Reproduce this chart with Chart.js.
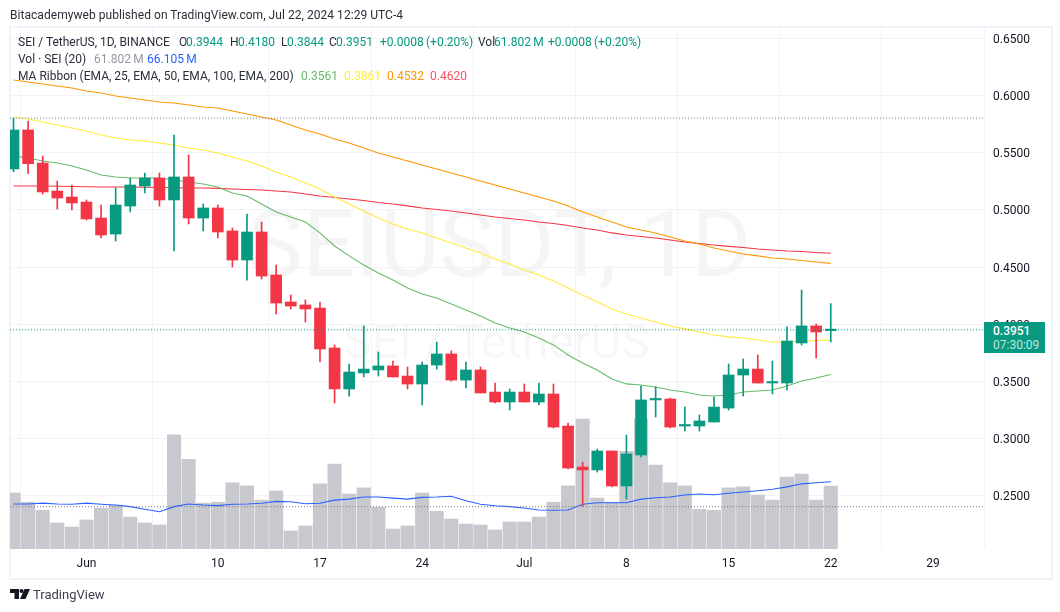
<!DOCTYPE html>
<html>
<head>
<meta charset="utf-8">
<style>
html,body{margin:0;padding:0;background:#fff;width:1060px;height:612px;overflow:hidden}
body{font-family:Roboto,sans-serif;color:#131722}
#stage{position:relative;width:1060px;height:612px}
.t{position:absolute;white-space:nowrap;font-size:12px;line-height:14px}
#frame{position:absolute;left:9px;top:26px;width:1040px;height:550px;border:2px solid #f0f3fa;z-index:0}
.wm{position:absolute;white-space:nowrap;color:rgba(19,23,34,.045);z-index:0;font-family:Roboto,sans-serif}
canvas{position:absolute;left:0;top:0;z-index:1}
.over{z-index:2}
#tag{position:absolute;left:984px;top:322px;width:61px;height:31px;background:#089981;z-index:2}
</style>
<script src="https://cdn.jsdelivr.net/npm/chart.js@4"></script>
</head>
<body>
<div id="stage">
<div id="frame"></div>
<div class="wm" style="left:248px;top:195px;font-size:92px;line-height:100px">SEIUSDT, 1D</div>
<div class="wm" style="left:343px;top:316px;font-size:48px;line-height:52px">SEI / TetherUS</div>
<canvas id="c" width="1060" height="612"></canvas>
<div class="t over" style="left:10px;top:8px;color:#2a2e39;letter-spacing:.045px">Bitacademyweb published on TradingView.com, Jul 22, 2024 12:29 UTC-4</div>
<div id="legend"></div>
<div id="tag"></div>
<div class="t over" style="left:993px;top:324px;color:#fff;font-weight:500">0.3951</div>
<div class="t over" style="left:993px;top:338px;color:rgba(255,255,255,.75)">07:30:09</div>
<svg class="over" style="position:absolute;left:10px;top:589px;z-index:2" width="20" height="10" viewBox="0 0 20 10"><path fill="#131722" d="M0 0h9v10H4.5V4H0zM14.5 0H20l-4.5 10H10z"/><circle fill="#131722" cx="11.5" cy="2" r="2"/></svg>
<div class="t over" style="left:33px;top:588px;font-size:13px;color:#3a3e49">TradingView</div>
</div>
<script>
// Day index 0 = May 27 2024, daily candles to Jul 22 2024
const tickDays   = [5, 14, 21, 28, 35, 42, 49, 56, 63];
const tickLabels = ['Jun', '10', '17', '24', 'Jul', '8', '15', '22', '29'];
const priceTicks = [0.25, 0.30, 0.35, 0.40, 0.45, 0.50, 0.55, 0.60, 0.65];

const opens  = [.5357,.5698,.5409,.5164,.5112,.5068,.4928,.4788,.5033,.5208,.5278,.5086,.5287,.4928,.5016,.4815,.4561,.4806,.4430,.4194,.4168,.4141,.3792,.3434,.3574,.3600,.3635,.3547,.3477,.3643,.3740,.3512,.3600,.3407,.3320,.3407,.3320,.3390,.3110,.2752,.2726,.2892,.2586,.2857,.3338,.3346,.3110,.3110,.3145,.3267,.3556,.3608,.3486,.3486,.3836,.3985,.3944];
const highs  = [.5802,.5776,.5470,.5252,.5217,.5086,.5042,.5191,.5278,.5322,.5322,.5654,.5479,.5051,.5042,.4841,.4963,.4893,.4518,.4255,.4212,.4194,.3818,.3652,.3985,.3757,.3678,.3626,.3670,.3844,.3766,.3670,.3626,.3486,.3434,.3477,.3486,.3477,.3136,.2795,.2909,.2892,.3031,.3460,.3451,.3355,.3276,.3206,.3364,.3652,.3696,.3731,.3678,.3976,.4299,.4002,.4180];
const lows   = [.5333,.5316,.5138,.5007,.4998,.4911,.4754,.4727,.4981,.5147,.5033,.4640,.4876,.4815,.4754,.4500,.4386,.4395,.4089,.4133,.4019,.3670,.3311,.3372,.3539,.3547,.3539,.3434,.3294,.3608,.3503,.3442,.3399,.3311,.3250,.3320,.3294,.3093,.2734,.2411,.2708,.2577,.2472,.2839,.3189,.3093,.3066,.3066,.3145,.3250,.3372,.3486,.3390,.3425,.3818,.3705,.3844];
const closes = [.5698,.5403,.5156,.5103,.5060,.4920,.4780,.5042,.5217,.5278,.5086,.5287,.4928,.5016,.4806,.4561,.4806,.4421,.4185,.4159,.4133,.3783,.3434,.3582,.3608,.3635,.3539,.3477,.3643,.3740,.3512,.3600,.3399,.3320,.3407,.3320,.3390,.3101,.2743,.2726,.2892,.2586,.2866,.3338,.3346,.3101,.3119,.3154,.3276,.3556,.3608,.3486,.3495,.3853,.3985,.3932,.3951];

const volumes = [55,46,38,25.5,21.6,28.5,40,43,31.4,25.5,23.6,112,88,45,46,65,62,48,57,17.7,22.6,64,83.5,54,60,41,19.6,22.6,55,37,29.5,24.5,23.6,18.7,26.5,26.5,31.4,46,62,127.7,50,46,96,127.7,82.5,65,62,39,38,60,61,53,48,70.7,73.6,48,61.802];
const volumeMA = [44.2,44.2,45,44.2,44,45,44,43.2,41.6,39,36.6,41.6,44.2,43.2,42.6,44,44.2,45,46.8,46.4,44.4,45,48,49,51,51,50,49,50.7,51,51.8,47.4,44,42.5,41.6,40.3,38.3,38,38.3,44,45.4,45.4,45.4,49,50.3,51,53,54,53.3,54.7,56,57.2,58.6,61,64,65,66.105];

const ema25  = [.5470,.5453,.5427,.5409,.5383,.5348,.5304,.5287,.5278,.5278,.5278,.5261,.5243,.5226,.5200,.5147,.5121,.5051,.4981,.4937,.4893,.4798,.4684,.4597,.4518,.4448,.4386,.4317,.4264,.4229,.4177,.4124,.4072,.4011,.3967,.3932,.3880,.3819,.3731,.3661,.3600,.3521,.3478,.3469,.3451,.3425,.3407,.3381,.3373,.3381,.3407,.3416,.3425,.3460,.3504,.3530,.3561];
const ema50  = [.5811,.5794,.5768,.5742,.5715,.5689,.5654,.5628,.5610,.5602,.5584,.5567,.5540,.5523,.5497,.5462,.5427,.5383,.5331,.5287,.5235,.5182,.5112,.5051,.4990,.4928,.4876,.4832,.4798,.4754,.4710,.4666,.4623,.4570,.4527,.4474,.4431,.4378,.4317,.4256,.4195,.4133,.4090,.4055,.4020,.3985,.3959,.3932,.3906,.3889,.3880,.3862,.3845,.3845,.3854,.3858,.3861];
const ema100 = [.6135,.6117,.6100,.6082,.6065,.6039,.6021,.5995,.5977,.5960,.5942,.5934,.5916,.5899,.5890,.5864,.5838,.5811,.5785,.5742,.5698,.5663,.5619,.5584,.5540,.5497,.5462,.5427,.5392,.5357,.5322,.5287,.5252,.5217,.5182,.5147,.5112,.5077,.5034,.4981,.4937,.4894,.4850,.4824,.4798,.4763,.4728,.4701,.4666,.4640,.4614,.4597,.4579,.4570,.4557,.4544,.4532];
const ema200 = [.5208,.5208,.5208,.5206,.5204,.5202,.5200,.5200,.5200,.5197,.5195,.5193,.5191,.5191,.5187,.5182,.5178,.5173,.5165,.5156,.5138,.5121,.5108,.5095,.5082,.5064,.5051,.5034,.5016,.5003,.4990,.4972,.4955,.4937,.4924,.4911,.4894,.4881,.4863,.4841,.4824,.4798,.4780,.4767,.4754,.4736,.4719,.4706,.4693,.4680,.4671,.4658,.4649,.4640,.4636,.4627,.4620];

const lastPrice = 0.3951;
const rangeHigh = 0.5802;
const rangeLow  = 0.2405;

// Legend rows: [left, top, text, colour]
const INK='#2a2e39', UP='#089981', GREY='#9598a1', BLUE='#2962ff', G='#66bb6a', Y='#ffeb3b', O='#ff9800', R='#f7525f';
const legendRows = [
 [18,35,'SEI / TetherUS, 1D, BINANCE',INK],[179,35,'O',INK],[186,35,'0.3944',UP],[230,35,'H',INK],[238,35,'0.4180',UP],
 [281,35,'L',INK],[287,35,'0.3844',UP],[329,35,'C',INK],[336,35,'0.3951',UP],[380,35,'+0.0008',UP],[426,35,'(+0.20%)',UP],
 [478,35,'Vol',INK],[494,35,'61.802\u2009M',UP],[548,35,'+0.0008',UP],[594,35,'(+0.20%)',UP],
 [18,52,'Vol \u00b7 SEI (20)',INK],[94,52,'61.802\u2009M',GREY],[147,52,'66.105\u2009M',BLUE],
 [18,69,'MA Ribbon (EMA, 25, EMA, 50, EMA, 100, EMA, 200)',INK],[301,69,'0.3561',G],[344,69,'0.3861',Y],[387,69,'0.4532',O],[430,69,'0.4620',R]
];
const lg=document.getElementById('legend');
legendRows.forEach(r=>{const d=document.createElement('div');d.className='t over';d.style.cssText=`left:${r[0]}px;top:${r[1]}px;color:${r[3]}`;d.textContent=r[2];lg.appendChild(d);});

const days = closes.map((_,i)=>i);
const candleColors = closes.map((c,i)=> c>=opens[i] ? '#089981' : '#f23645');
const line = (d,color,order,axis)=>({type:'line',data:d.map((v,i)=>({x:i,y:v})),borderColor:color,borderWidth:1.1,pointRadius:0,tension:0,order,yAxisID:axis||'y',clip:true});
const XMIN=-0.24, XMAX=66.5;
const level = (v,color)=>({type:'line',data:[{x:XMIN,y:v},{x:XMAX,y:v}],borderColor:color,borderWidth:1,borderDash:[1,2],pointRadius:0,order:0,yAxisID:'y'});

new Chart(document.getElementById('c'),{
 type:'bar',
 data:{datasets:[
  level(lastPrice,'#089981'),level(rangeHigh,'#787b86'),level(rangeLow,'#787b86'),
  {type:'bar',data:days.map(i=>({x:i,y:[opens[i],closes[i]]})),backgroundColor:candleColors,barThickness:11,minBarLength:1.5,grouped:false,order:1,yAxisID:'y'},
  {type:'bar',data:days.map(i=>({x:i,y:[lows[i],highs[i]]})),backgroundColor:candleColors,barThickness:1,grouped:false,order:2,yAxisID:'y'},
  line(ema25,'#66bb6a',3),line(ema50,'#ffeb3b',3),line(ema100,'#ff9800',3),line(ema200,'#f23645',3),
  line(volumeMA,'#2962ff',4,'v'),
  {type:'bar',data:days.map(i=>({x:i,y:volumes[i]})),backgroundColor:'#c8c9ce',barThickness:13.4,grouped:false,order:5,yAxisID:'v'}
 ]},
 options:{
  responsive:false,animation:false,devicePixelRatio:1,
  layout:{padding:{left:10,top:27,right:10,bottom:35}},
  plugins:{legend:{display:false},tooltip:{enabled:false}},
  scales:{
   x:{type:'linear',min:XMIN,max:XMAX,offset:false,
      afterBuildTicks:a=>{a.ticks=tickDays.map(v=>({value:v}));},
      afterFit:a=>{a.height=28;},
      grid:{color:'#f0f3fa',drawTicks:false},border:{display:false},
      ticks:{autoSkip:false,maxRotation:0,padding:8,color:'#131722',font:{family:'Roboto',size:12},
             callback:v=>tickLabels[tickDays.indexOf(v)]}},
   y:{type:'linear',position:'right',min:0.2035,max:0.6598,
      afterBuildTicks:a=>{a.ticks=priceTicks.map(v=>({value:v}));},
      afterFit:a=>{a.width=66;},
      grid:{color:'#f0f3fa',drawTicks:false},border:{display:false},
      ticks:{padding:9,color:'#131722',font:{family:'Roboto',size:12,lineHeight:'3px'},callback:v=>['',v.toFixed(4)]}},
   v:{type:'linear',display:false,min:0,max:512.6}
  }
 }
});
</script>
</body>
</html>
